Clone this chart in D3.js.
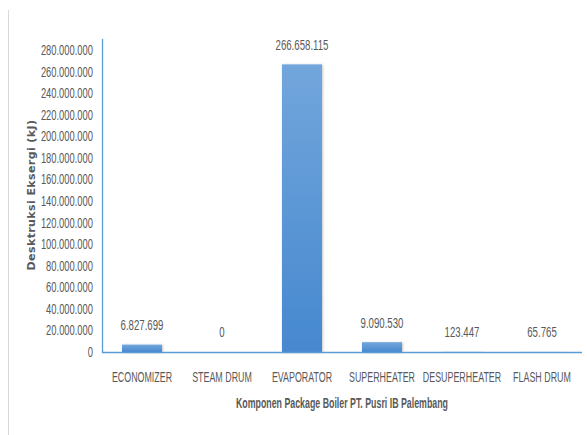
<!DOCTYPE html>
<html><head><meta charset="utf-8">
<script src="https://cdn.jsdelivr.net/npm/d3@7"></script>
<style>
body{margin:0;background:#fff;}
svg{display:block;}
</style></head>
<body><svg id="c" width="587" height="435"></svg>
<script>
const categories = ["ECONOMIZER","STEAM DRUM","EVAPORATOR","SUPERHEATER","DESUPERHEATER","FLASH DRUM"];
const values = [6827699, 0, 266658115, 9090530, 123447, 65765];
const valueLabels = ["6.827.699","0","266.658.115","9.090.530","123.447","65.765"];
const yTicks = [0,20e6,40e6,60e6,80e6,100e6,120e6,140e6,160e6,180e6,200e6,220e6,240e6,260e6,280e6];
const xTitle = "Komponen Package Boiler PT. Pusri IB Palembang";
const yTitle = "Desktruksi Eksergi (kJ)";

(function(){
const svg = d3.select("#c");
const pLeft = 102, pRight = 582, pTop = 50, pBottom = 352;
const fnt = "'Liberation Sans',Arial,sans-serif";
const txt = "#595959";
const FS = 14;
// horizontally condense text (imitating a narrow font) by scaling about its anchor
function squeeze(sel, k){
  sel.each(function(){
    const t = d3.select(this);
    const xv = +(t.attr("x") || 0);
    t.attr("x", xv / k).attr("transform", `scale(${k},1)`);
  });
}

const defs = svg.append("defs");
const g = defs.append("linearGradient").attr("id","bg").attr("x1",0).attr("y1",0).attr("x2",0).attr("y2",1);
g.append("stop").attr("offset","0%").attr("stop-color","#72a6dc");
g.append("stop").attr("offset","100%").attr("stop-color","#4688cf");
const f = defs.append("filter").attr("id","sh").attr("x","-20%").attr("y","-20%").attr("width","140%").attr("height","140%");
f.append("feDropShadow").attr("dx",0.8).attr("dy",0.5).attr("stdDeviation",0.8).attr("flood-color","#000").attr("flood-opacity",0.25);

svg.append("line").attr("x1",8.5).attr("x2",8.5).attr("y1",10).attr("y2",435).attr("stroke","#d9d9d9").attr("stroke-width",1);

const x = d3.scaleBand().domain(categories).range([pLeft,pRight]).paddingInner(0.5).paddingOuter(0.25);
const y = d3.scaleLinear().domain([0,280e6]).range([pBottom,pTop]);

const yAxis = d3.axisLeft(y).tickValues(yTicks).tickSize(0).tickPadding(9)
  .tickFormat(d => d===0 ? "0" : d3.format(",")(d).replace(/,/g,"."));
const ya = svg.append("g").attr("transform",`translate(${pLeft},0)`).call(yAxis);
ya.select(".domain").remove();
ya.selectAll("text").attr("font-family",fnt).attr("font-size",FS).attr("fill",txt).call(squeeze, 0.67);

svg.selectAll("rect.bar").data(values).join("rect").attr("class","bar")
  .attr("x",(d,i)=>x(categories[i])).attr("width",x.bandwidth())
  .attr("y",d=>y(d)).attr("height",d=>pBottom-y(d))
  .attr("fill","url(#bg)").attr("filter","url(#sh)");

svg.append("line").attr("x1",pLeft+0.5).attr("x2",pLeft+0.5).attr("y1",39).attr("y2",pBottom+1).attr("stroke","#5b9bd5").attr("stroke-width",1.3);
const xAxis = d3.axisBottom(x).tickSize(0).tickPadding(20);
const xa = svg.append("g").attr("transform",`translate(0,${pBottom})`).call(xAxis);
xa.select(".domain").attr("stroke","#5b9bd5").attr("stroke-width",1.5).attr("d",`M${pLeft},0.5H${pRight}`);
xa.selectAll("text").attr("font-family",fnt).attr("font-size",FS).attr("fill",txt).call(squeeze, 0.635);

svg.selectAll("text.vl").data(values).join("text").attr("class","vl")
  .attr("x",(d,i)=>x(categories[i])+x.bandwidth()/2).attr("y",d=>y(d)-14.5)
  .attr("text-anchor","middle").attr("font-family",fnt).attr("font-size",FS).attr("fill",txt)
  .text((d,i)=>valueLabels[i]).call(squeeze, 0.69);

svg.append("text").attr("x",(pLeft+pRight)/2).attr("y",408).attr("text-anchor","middle")
  .attr("font-family",fnt).attr("font-weight","bold").attr("font-size",FS)
  .attr("fill",txt).text(xTitle).call(squeeze, 0.63);
svg.append("text").attr("transform","translate(35,195) rotate(-90)").attr("text-anchor","middle")
  .attr("font-family","'DejaVu Sans',Verdana,sans-serif").attr("font-weight","bold").attr("font-size",11)
  .attr("letter-spacing",0.4).attr("fill",txt).text(yTitle);
})();
</script></body></html>
